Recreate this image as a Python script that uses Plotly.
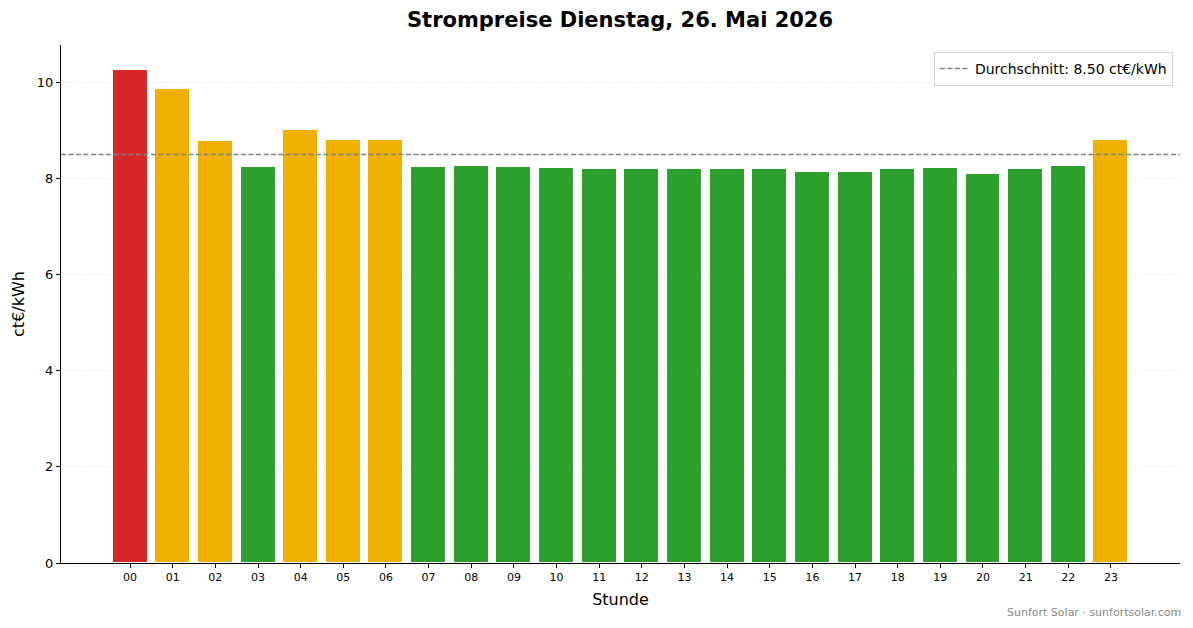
import plotly.graph_objects as go

# Hourly prices (ct/kWh)
hours = ["00", "01", "02", "03", "04", "05", "06", "07", "08", "09", "10", "11",
         "12", "13", "14", "15", "16", "17", "18", "19", "20", "21", "22", "23"]
prices = [10.26, 9.86, 8.79, 8.25, 9.02, 8.81, 8.81, 8.25, 8.27, 8.25, 8.23, 8.19,
          8.19, 8.19, 8.19, 8.19, 8.14, 8.14, 8.19, 8.21, 8.10, 8.19, 8.26, 8.80]
average = 8.50

# colour by level relative to average
colors = []
for p in prices:
    if p > average * 1.2:
        colors.append("#d62728")
    elif p > average:
        colors.append("#f0b000")
    else:
        colors.append("#2ca02c")

x_pos = list(range(len(hours)))

fig = go.Figure()
fig.add_trace(go.Bar(x=x_pos,
                     y=prices,
                     width=0.82,
                     marker=dict(color=colors, line=dict(color="white", width=1)),
                     showlegend=False
                     ))

# average line (shape with legend entry)
fig.add_shape(type="line", xref="paper", x0=0, x1=1, yref="y", y0=average, y1=average,
              line=dict(color="#808080", width=1.5, dash="5px,2.5px"),
              showlegend=True, name="Durchschnitt: %.2f ct€/kWh" % average)

# page body has an 8px margin (top/left), so the figure is a bit smaller than the window
fig.update_layout(
    width=1185, height=620,
    paper_bgcolor="white", plot_bgcolor="white",
    font=dict(family="DejaVu Sans", color="black"),
    margin=dict(l=53, r=13, t=37, b=65),
    title=dict(text="<b>Strompreise Dienstag, 26. Mai 2026</b>", x=0.5165, xanchor="center",
               y=0.981, yanchor="middle", font=dict(size=21)),
    legend=dict(x=0.9937, xanchor="right", y=0.9865, yanchor="top",
                bgcolor="white", bordercolor="#d0d0d0", borderwidth=1,
                font=dict(size=14), tracegroupgap=0, itemwidth=30),
    bargap=0,
)

fig.update_xaxes(tickvals=x_pos, ticktext=hours, range=[-1.62, 24.62],
                 showline=True, linecolor="black", linewidth=1, mirror=False,
                 ticks="outside", ticklen=4, tickcolor="black",
                 tickfont=dict(size=11), showgrid=False, zeroline=False, automargin=False,
                 title=dict(text="Stunde", font=dict(size=16), standoff=10))

fig.update_yaxes(range=[0, 10.78], tickvals=[0, 2, 4, 6, 8, 10],
                 showline=True, linecolor="black", linewidth=1,
                 ticks="outside", ticklen=4, tickcolor="black",
                 tickfont=dict(size=13), zeroline=False, automargin=False,
                 showgrid=True, gridcolor="#e0e0e0", griddash="1px,2px", gridwidth=1,
                 title=dict(text="ct€/kWh", font=dict(size=16), standoff=8))

fig.add_annotation(text="Sunfort Solar · sunfortsolar.com", xref="paper", yref="paper",
                   x=1.0027, y=-0.0965, xanchor="right", yanchor="middle",
                   showarrow=False, font=dict(size=11, color="#888888"))

fig.write_html("out.html")
